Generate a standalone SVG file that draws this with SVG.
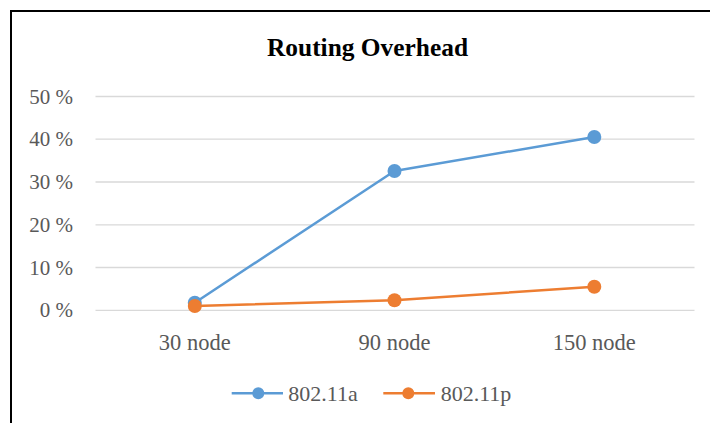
<svg xmlns="http://www.w3.org/2000/svg" width="710" height="423" viewBox="0 0 710 423">
  <style>
    .grid { stroke: #D9D9D9; stroke-width: 1.3; fill: none; }
    .lbl { font-family: "Liberation Serif", "Times New Roman", serif; fill: #595959; }
    .ylbl { font-size: 21px; text-anchor: end; }
    .xlbl { font-size: 22.5px; text-anchor: middle; }
    .leg { font-size: 22px; }
    .title { font-family: "Liberation Serif", "Times New Roman", serif; font-weight: bold; font-size: 24.5px; fill: #000; text-anchor: middle; }
    .sa { stroke: #5B9BD5; stroke-width: 2.5; fill: none; stroke-linejoin: round; }
    .sp { stroke: #ED7D31; stroke-width: 2.5; fill: none; stroke-linejoin: round; }
    .ma { fill: #5B9BD5; }
    .mp { fill: #ED7D31; }
  </style>
  <rect x="0" y="0" width="710" height="423" fill="#FFFFFF"/>
  <rect x="11" y="11" width="730" height="440" fill="none" stroke="#000" stroke-width="2"/>
  <g id="title">
    <text class="title" x="367.5" y="56" textLength="201" lengthAdjust="spacingAndGlyphs">Routing Overhead</text>
  </g>
  <g id="gridlines">
    <line class="grid" x1="95.5" y1="96.5" x2="694.5" y2="96.5"/>
    <line class="grid" x1="95.5" y1="139.2" x2="694.5" y2="139.2"/>
    <line class="grid" x1="95.5" y1="182" x2="694.5" y2="182"/>
    <line class="grid" x1="95.5" y1="224.8" x2="694.5" y2="224.8"/>
    <line class="grid" x1="95.5" y1="267.5" x2="694.5" y2="267.5"/>
    <line class="grid" x1="95.5" y1="310.3" x2="694.5" y2="310.3"/>
  </g>
  <g id="y-axis">
    <text class="lbl ylbl" x="73" y="103.5">50 %</text>
    <text class="lbl ylbl" x="73" y="146.2">40 %</text>
    <text class="lbl ylbl" x="73" y="189">30 %</text>
    <text class="lbl ylbl" x="73" y="231.8">20 %</text>
    <text class="lbl ylbl" x="73" y="274.5">10 %</text>
    <text class="lbl ylbl" x="73" y="317.3">0 %</text>
  </g>
  <g id="x-axis">
    <text class="lbl xlbl" x="194.8" y="350">30 node</text>
    <text class="lbl xlbl" x="394.5" y="350">90 node</text>
    <text class="lbl xlbl" x="594.2" y="350">150 node</text>
  </g>
  <g id="connectors">
    <polyline id="series-80211a" class="sa" points="194.8,302.7 394.5,171 594.3,137"/>
    <polyline id="series-80211p" class="sp" points="194.8,306 394.5,300.3 594.3,286.7"/>
  </g>
  <g id="markers-80211a">
    <circle class="ma" cx="194.8" cy="302.7" r="7"/>
    <circle class="ma" cx="394.5" cy="171" r="7"/>
    <circle class="ma" cx="594.3" cy="137" r="7"/>
  </g>
  <g id="markers-80211p">
    <circle class="mp" cx="194.8" cy="306" r="7"/>
    <circle class="mp" cx="394.5" cy="300.3" r="7"/>
    <circle class="mp" cx="594.3" cy="286.7" r="7"/>
  </g>
  <g id="legend">
    <line class="sa" x1="231.7" y1="393.3" x2="283" y2="393.3"/>
    <circle class="ma" cx="258.3" cy="393.3" r="6"/>
    <text class="lbl leg" x="288.3" y="400.7">802.11a</text>
    <line class="sp" x1="383.3" y1="393.3" x2="435" y2="393.3"/>
    <circle class="mp" cx="408.3" cy="393.3" r="6"/>
    <text class="lbl leg" x="440.7" y="400.7">802.11p</text>
  </g>
</svg>
